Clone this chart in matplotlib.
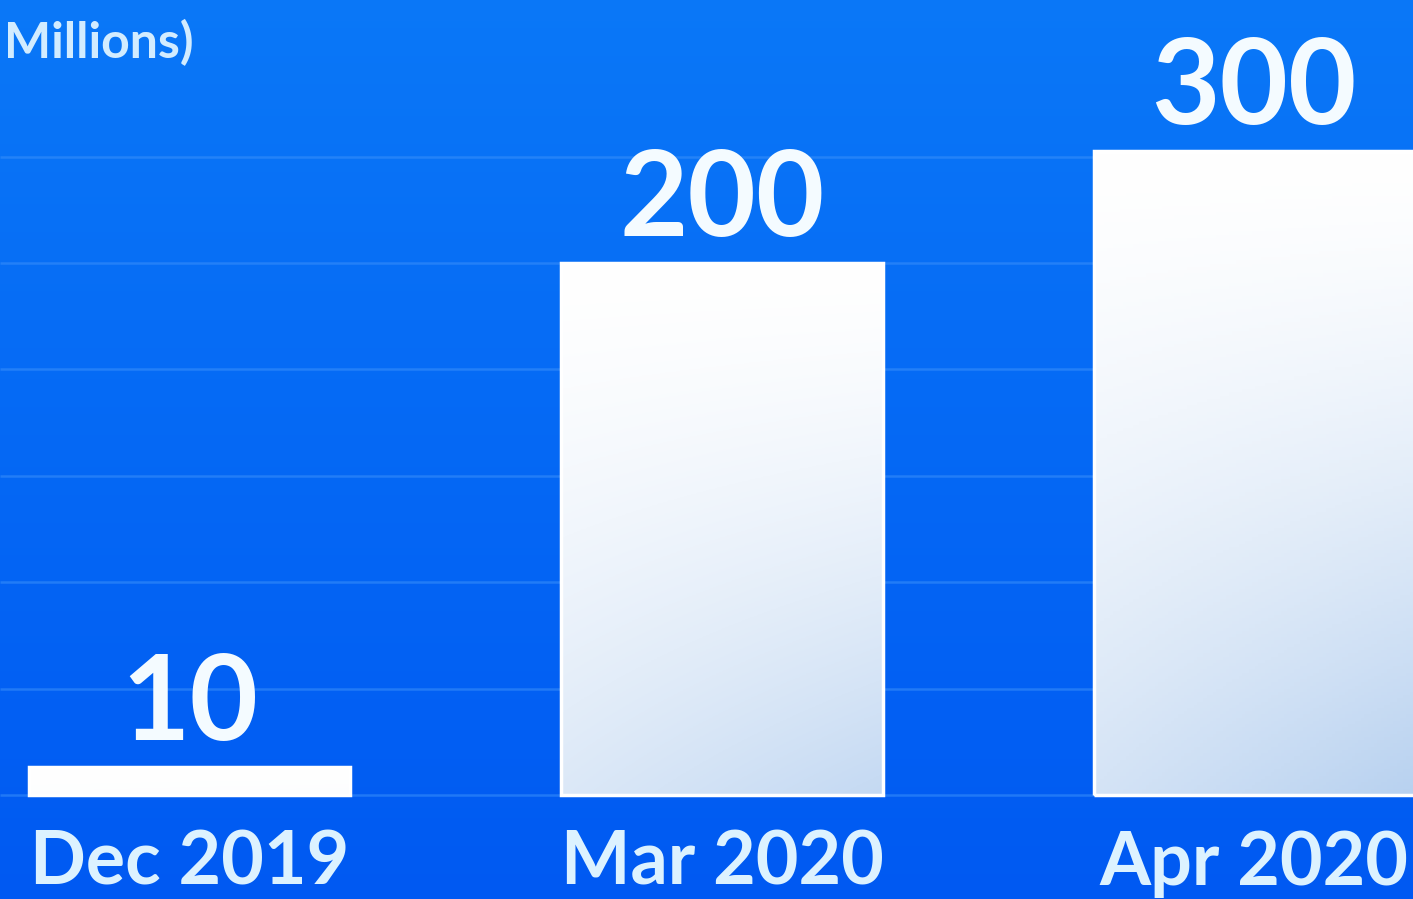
import numpy as np
import matplotlib.pyplot as plt

# data
months = ['Dec 2019', 'Mar 2020', 'Apr 2020']
value_labels = ['10', '200', '300']
bar_heights = [10.5, 200, 242]   # drawn heights (the picture is not to scale with its labels)
grid_levels = [0, 40, 80, 120, 160, 200, 240]
unit_text = 'Millions)'

plt.rcParams['font.family'] = ['Lato', 'DejaVu Sans']

fig = plt.figure(figsize=(14.13, 8.99), dpi=100)
ax = fig.add_axes([0, 0, 1, 1])
xlim = (-0.356, 2.298)
ylim = (-39.1, 298.9)

# blue background, lighter at the top
top_col = np.array([0.04, 0.47, 0.97])
bot_col = np.array([0.0, 0.35, 0.95])
t = np.linspace(0, 1, 256)[:, None]
bg = top_col * (1 - t) + bot_col * t
ax.imshow(bg[:, None, :], extent=[xlim[0], xlim[1], ylim[0], ylim[1]],
          aspect='auto', zorder=0)

# faint gridlines
ax.hlines(grid_levels, xlim[0], xlim[1], color='#3b90fa', lw=1.8, alpha=0.55, zorder=1)

x = np.arange(len(months))
width = 0.604
bars = ax.bar(x, bar_heights, width=width, color='none', edgecolor='white',
              lw=2.5, zorder=3)

# white -> pale blue fill for every bar
pale = np.array([0.72, 0.82, 0.94])
for rect, h in zip(bars, bar_heights):
    k = h / max(bar_heights)
    tv = np.linspace(0, 1, 200)[:, None]
    th = np.linspace(0, 1, 100)[None, :]
    amt = k * (tv ** 1.4) * (0.6 + 0.4 * th)
    img = 1 - amt[..., None] * (1 - pale)
    x0 = rect.get_x()
    im = ax.imshow(img, extent=[x0, x0 + rect.get_width(), 0, h],
                   aspect='auto', zorder=2)
    im.set_clip_path(rect)

for xi, h, lbl in zip(x, bar_heights, value_labels):
    ax.annotate(lbl, (xi, h), xytext=(0, 19.5), textcoords='offset points',
                ha='center', va='baseline', fontsize=85, fontweight='bold',
                color='#f4fbff', zorder=4)

for xi, m in zip(x, months):
    ax.text(xi, -33.8, m, ha='center', va='baseline', fontsize=53,
            fontweight='bold', color='#dcf2ff', zorder=4)

fig.text(4 / 1413, 1 - 58 / 899, unit_text, ha='left', va='baseline',
         fontsize=36, fontweight='bold', color='#d2ecff')

ax.set_xlim(*xlim)
ax.set_ylim(*ylim)
ax.axis('off')

fig.savefig('out.png', dpi=100)
